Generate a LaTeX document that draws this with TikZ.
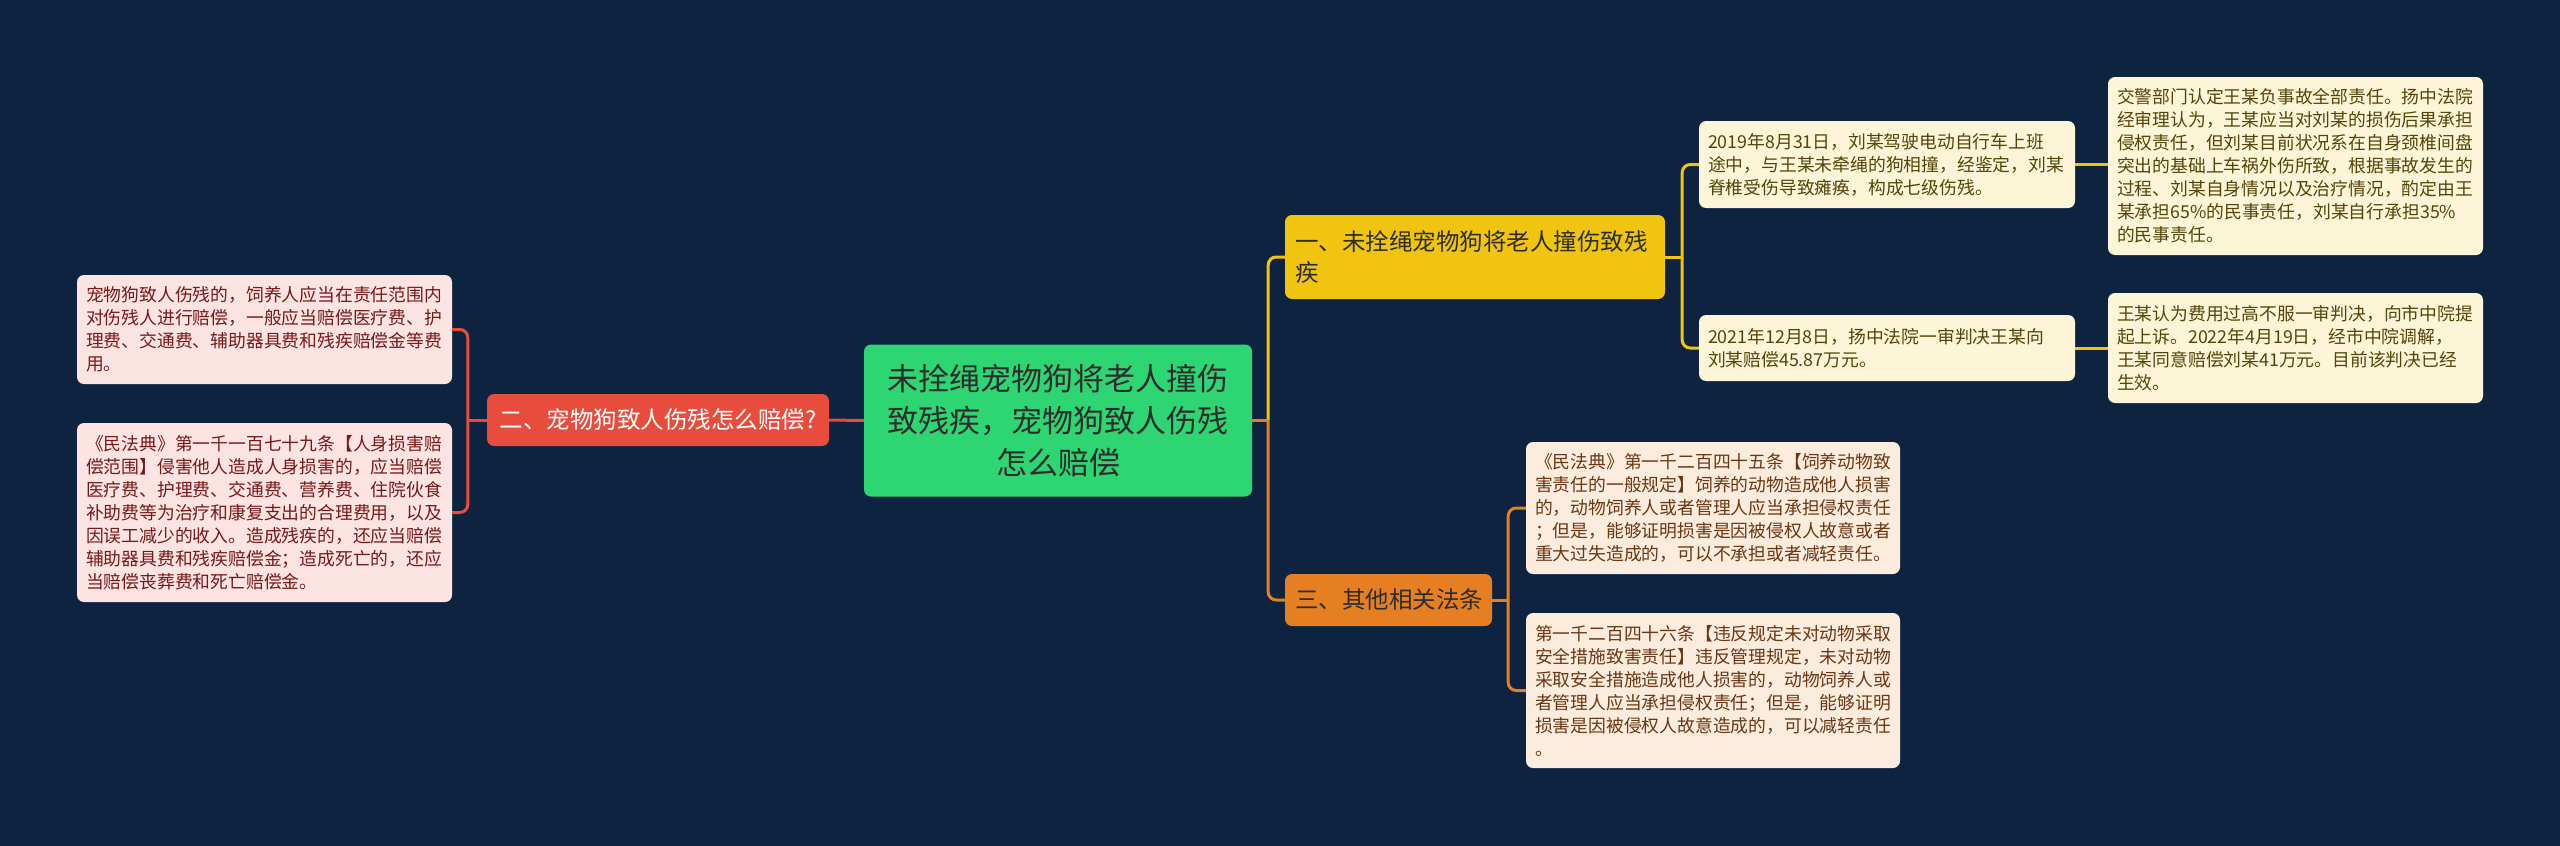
\documentclass[tikz,border=0pt]{standalone}
\usepackage{fontspec}
\newfontfamily\cjk{Noto Sans CJK SC}
\usetikzlibrary{calc}
\definecolor{bg}{RGB}{13,35,64}
\definecolor{cgreen}{RGB}{46,213,115}
\definecolor{cred}{RGB}{231,76,60}
\definecolor{pinkfill}{RGB}{252,228,226}
\definecolor{pinktext}{RGB}{118,25,25}
\definecolor{cyel}{RGB}{241,196,15}
\definecolor{yelfill}{RGB}{253,245,215}
\definecolor{yeltext}{RGB}{85,68,10}
\definecolor{cora}{RGB}{230,126,34}
\definecolor{orafill}{RGB}{252,236,222}
\definecolor{oratext}{RGB}{105,55,20}
\definecolor{darktext}{RGB}{45,45,45}
\begin{document}
\begin{tikzpicture}[x=1pt,y=-1pt,
  box/.style={rounded corners=7pt, inner xsep=9pt, inner ysep=0pt, align=left, anchor=center},
  mainbox/.style={box, fill=cgreen, text=darktext, align=center, inner xsep=10pt, font=\fontsize{31}{42}\selectfont\cjk},
  subbox/.style={box, inner xsep=10pt, font=\fontsize{23.5}{31}\selectfont\cjk},
  leafbox/.style={box, font=\fontsize{17.8}{23}\selectfont\cjk},
  redbox/.style={subbox, fill=cred, text=white, align=center},
  yelbox/.style={subbox, fill=cyel, text=darktext},
  orabox/.style={subbox, fill=cora, text=darktext},
  pinkleaf/.style={leafbox, fill=pinkfill, text=pinktext},
  yelleaf/.style={leafbox, fill=yelfill, text=yeltext},
  oraleaf/.style={leafbox, fill=orafill, text=oratext},
  conn/.style={line width=3pt},
  bconn/.style={line width=3pt, rounded corners=8pt},
]
\fill[bg] (0,0) rectangle (2560,846);
\useasboundingbox (0,0) rectangle (2560,846);

% central
\node[mainbox, text width=368pt, minimum height=152pt] (c) at (1058,420.5)
  {未拴绳宠物狗将老人撞伤\\致残疾，宠物狗致人伤残\\怎么赔偿};

% left branch
\node[redbox, text width=322pt, minimum height=52pt] (r) at (658,420)
  {二、宠物狗致人伤残怎么赔偿?};
\node[pinkleaf, text width=357pt, minimum height=109pt] (l1) at (264.5,329.5)
  {宠物狗致人伤残的，饲养人应当在责任范围内\\对伤残人进行赔偿，一般应当赔偿医疗费、护\\理费、交通费、辅助器具费和残疾赔偿金等费\\用。};
\node[pinkleaf, text width=357pt, minimum height=179pt] (l2) at (264.5,512.5)
  {《民法典》第一千一百七十九条【人身损害赔\\偿范围】侵害他人造成人身损害的，应当赔偿\\医疗费、护理费、交通费、营养费、住院伙食\\补助费等为治疗和康复支出的合理费用，以及\\因误工减少的收入。造成残疾的，还应当赔偿\\辅助器具费和残疾赔偿金；造成死亡的，还应\\当赔偿丧葬费和死亡赔偿金。};

% yellow branch
\node[yelbox, text width=360pt, minimum height=84pt] (y) at (1475,257)
  {一、未拴绳宠物狗将老人撞伤致残\\疾};
\node[yelleaf, text width=358pt, minimum height=87pt] (y1) at (1887,164.5)
  {2019年8月31日，刘某驾驶电动自行车上班\\途中，与王某未牵绳的狗相撞，经鉴定，刘某\\脊椎受伤导致瘫痪，构成七级伤残。};
\node[yelleaf, text width=358pt, minimum height=66pt] (y2) at (1887,348)
  {2021年12月8日，扬中法院一审判决王某向\\刘某赔偿45.87万元。};
\node[yelleaf, text width=357pt, minimum height=178pt] (f1) at (2295.5,166)
  {交警部门认定王某负事故全部责任。扬中法院\\经审理认为，王某应当对刘某的损伤后果承担\\侵权责任，但刘某目前状况系在自身颈椎间盘\\突出的基础上车祸外伤所致，根据事故发生的\\过程、刘某自身情况以及治疗情况，酌定由王\\某承担65\%的民事责任，刘某自行承担35\%\\的民事责任。};
\node[yelleaf, text width=357pt, minimum height=110pt] (f2) at (2295.5,348)
  {王某认为费用过高不服一审判决，向市中院提\\起上诉。2022年4月19日，经市中院调解，\\王某同意赔偿刘某41万元。目前该判决已经\\生效。};

% orange branch
\node[orabox, text width=187pt, minimum height=52pt] (o) at (1388.5,600)
  {三、其他相关法条};
\node[oraleaf, text width=356pt, minimum height=132pt] (o1) at (1713,508)
  {《民法典》第一千二百四十五条【饲养动物致\\害责任的一般规定】饲养的动物造成他人损害\\的，动物饲养人或者管理人应当承担侵权责任\\；但是，能够证明损害是因被侵权人故意或者\\重大过失造成的，可以不承担或者减轻责任。};
\node[oraleaf, text width=356pt, minimum height=155pt] (o2) at (1713,690.5)
  {第一千二百四十六条【违反规定未对动物采取\\安全措施致害责任】违反管理规定，未对动物\\采取安全措施造成他人损害的，动物饲养人或\\者管理人应当承担侵权责任；但是，能够证明\\损害是因被侵权人故意造成的，可以减轻责任\\。};

% junctions
\coordinate (jc) at ($(c.east)+(16,0)$);
\coordinate (jr) at ($(r.west)+(-19,0)$);
\coordinate (jy) at ($(y.east)+(17,0)$);
\coordinate (jo) at ($(o.east)+(16,0)$);

% connectors: centre
\draw[bconn, cyel] (jc) |- (y.west);
\draw[bconn, cora] (jc) |- (o.west);
\draw[conn, cora] (c.east) -- (jc);
\draw[bconn, cred] (jr) |- (l1.east);
\draw[bconn, cred] (jr) |- (l2.east);
\draw[conn, cred] (c.west) -- (r.east);
\draw[conn, cred] (r.west) -- (jr);
% yellow
\draw[bconn, cyel] (jy) |- (y1.west);
\draw[bconn, cyel] (jy) |- (y2.west);
\draw[conn, cyel] (y.east) -- (jy);
\draw[conn, cyel] (y1.east) -- (f1.west |- y1.east);
\draw[conn, cyel] (y2.east) -- (f2.west |- y2.east);
% orange
\draw[bconn, cora] (jo) |- (o1.west);
\draw[bconn, cora] (jo) |- (o2.west);
\draw[conn, cora] (o.east) -- (jo);
\end{tikzpicture}
\end{document}
